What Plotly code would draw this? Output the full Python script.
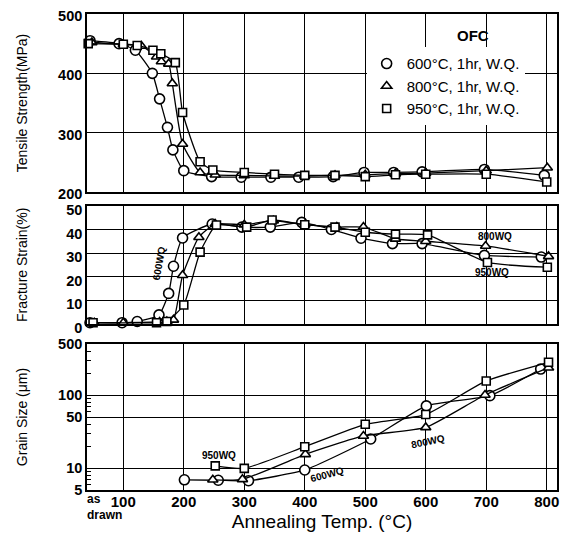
import plotly.graph_objects as go

# ---------------- data ----------------
# Tensile strength (MPa)
T600_ts = [45, 93, 120, 148, 160, 173, 182, 200, 246, 295, 344, 390, 447, 498, 547, 594, 697, 796]
TS600 = [455, 450, 439, 400, 357, 309, 271, 236, 226, 225, 225, 225, 226, 233, 233, 234, 238, 228]
T800_ts = [48, 100, 130, 155, 163, 175, 181, 198, 227, 252, 300, 350, 400, 450, 500, 550, 600, 700, 801]
TS800 = [452, 449, 446, 428, 420, 416, 383, 281, 233, 229, 228, 227, 227, 228, 229, 231, 232, 236, 241]
T950_ts = [42, 100, 123, 149, 162, 186, 198, 227, 248, 300, 350, 400, 450, 500, 550, 600, 700, 800]
TS950 = [450, 449, 447, 439, 433, 418, 334, 251, 237, 233, 230, 228, 228, 226, 229, 230, 230, 217]

# Fracture strain (%)
T600_fs = [45, 98, 123, 159, 175, 183, 198, 247, 296, 343, 395, 444, 493, 545, 594, 697, 791]
FS600 = [0.5, 0.5, 1, 3.8, 12.9, 24.4, 36.4, 42.3, 41, 41, 43, 40, 36.3, 34, 34, 29, 28.3]
T800_fs = [52, 100, 160, 172, 183, 198, 225, 252, 300, 348, 400, 453, 497, 550, 600, 699, 803]
FS800 = [0.5, 0.5, 0.8, 1, 1.7, 20.6, 36.7, 42.3, 42, 43.7, 42, 41, 41, 36, 35, 33, 28.6]
T950_fs = [50, 155, 172, 200, 227, 254, 304, 346, 400, 450, 500, 550, 603, 702, 801]
FS950 = [0.5, 0.5, 1, 8, 30.4, 41.9, 41, 44, 42, 41, 38.8, 38, 37.7, 26, 24]

# Grain size (um)
T600_gs = [201, 257, 307, 400, 509, 601, 706, 790]
GS600 = [6.9, 6.8, 6.7, 9.4, 25, 71, 98, 227]
T800_gs = [248, 297, 401, 497, 600, 698, 803]
GS800 = [6.9, 7.0, 15.4, 27.5, 36, 100, 237]
T950_gs = [252, 300, 400, 500, 600, 700, 803]
GS950 = [10.7, 9.9, 19.6, 39.7, 54, 156, 281]

series_names = ["600°C, 1hr, W.Q.", "800°C, 1hr, W.Q.", "950°C, 1hr, W.Q."]
x_ticks = [100, 200, 300, 400, 500, 600, 700, 800]
ts_ticks = [200, 300, 400, 500]
fs_ticks = [0, 10, 20, 30, 40, 50]
gs_ticks = [5, 10, 50, 100, 500]

# ---------------- figure ----------------
fig = go.Figure()
FONT = "Liberation Sans, Arial, sans-serif"
syms = [("circle", 10), ("triangle-up", 9), ("square", 8)]


def add(x, y, k, xa, ya):
    sym, size = syms[k]
    fig.add_trace(go.Scatter(
        x=x, y=y, mode="lines+markers",
        line=dict(color="black", width=1.3, shape="spline", smoothing=0.5),
        marker=dict(symbol=sym, size=size, color="white",
                    line=dict(color="black", width=1.6)),
        xaxis=xa, yaxis=ya, showlegend=False, cliponaxis=False, hoverinfo="x+y"))


for k, (x, y) in enumerate([(T600_ts, TS600), (T800_ts, TS800), (T950_ts, TS950)]):
    add(x, y, k, "x", "y")
for k, (x, y) in enumerate([(T600_fs, FS600), (T800_fs, FS800), (T950_fs, FS950)]):
    add(x, y, k, "x2", "y2")
for k, (x, y) in enumerate([(T600_gs, GS600), (T800_gs, GS800), (T950_gs, GS950)]):
    add(x, y, k, "x3", "y3")

for k, name in enumerate(series_names):
    sym, size = syms[k]
    fig.add_trace(go.Scatter(
        x=[None], y=[None], mode="markers", name=name,
        marker=dict(symbol=sym, size=size, color="white",
                    line=dict(color="black", width=1.6)),
        xaxis="x", yaxis="y"))

xr = [40, 817]
axis_common = dict(showline=True, linecolor="black", linewidth=1.6, mirror=True,
                   showgrid=True, gridcolor="black", gridwidth=1.1, zeroline=False,
                   automargin=False, ticklabeloverflow="allow",
                   ticks="", tickfont=dict(family=FONT, size=15, color="black", weight="bold"))

xcommon = dict(axis_common, range=xr, tickvals=x_ticks)
fig.update_layout(
    width=554, height=524,
    margin=dict(l=79, r=5, t=6, b=42),
    paper_bgcolor="white", plot_bgcolor="white",
    font=dict(family=FONT, color="black"),
    xaxis=dict(xcommon, domain=[0, 1], anchor="y", showticklabels=False),
    xaxis2=dict(xcommon, domain=[0, 1], anchor="y2", showticklabels=False, matches="x"),
    xaxis3=dict(xcommon, domain=[0, 1], anchor="y3", matches="x", ticklabelstandoff=-3,
                title=dict(text="Annealing Temp. (°C)", font=dict(family=FONT, size=19), standoff=11)),
    yaxis=dict(axis_common, domain=[0.626, 1], range=[200, 500], tickvals=ts_ticks, ticklabelshift=2,
               tickfont=dict(family=FONT, size=14.5, color="black", weight="bold"),
               title=dict(text="Tensile Strength(MPa)", font=dict(family=FONT, size=14), standoff=27)),
    yaxis2=dict(axis_common, domain=[0.349, 0.597], range=[0, 50], tickvals=fs_ticks, ticklabelshift=4,
                tickfont=dict(family=FONT, size=14.5, color="black", weight="bold"),
                title=dict(text="Fracture Strain(%)", font=dict(family=FONT, size=14), standoff=35)),
    yaxis3=dict(axis_common, domain=[0, 0.3067], type="log", range=[0.699, 2.699], tickvals=gs_ticks,
                tickfont=dict(family=FONT, size=14.5, color="black", weight="bold"),
                title=dict(text="Grain Size (μm)", font=dict(family=FONT, size=14), standoff=27),
                minor=dict(ticks="inside", ticklen=4, tickcolor="black", showgrid=False,
                           tickvals=[6, 7, 8, 9, 20, 30, 40, 60, 70, 80, 90, 200, 300, 400])),
    legend=dict(x=0.595, y=0.93, xanchor="left", yanchor="top", bgcolor="white",
                font=dict(family=FONT, size=15), tracegroupgap=0, itemwidth=30),
    showlegend=True,
)

ann_font = dict(family=FONT, size=10, color="black", weight="bold")
annotations = [
    dict(text="OFC", xref="paper", yref="paper", x=0.821, y=0.954, xanchor="center", yanchor="middle",
         showarrow=False, font=dict(family=FONT, size=15, weight="bold")),
    dict(text="as<br>drawn", xref="paper", yref="paper", x=-0.005, y=0.0, xanchor="left",
         yanchor="top", align="left", showarrow=False,
         font=dict(family=FONT, size=12, weight="bold")),
    dict(text="600WQ", xref="x2", yref="y2", x=159, y=25.6, showarrow=False, textangle=-80, font=ann_font),
    dict(text="800WQ", xref="x2", yref="y2", x=714, y=37, showarrow=False, font=ann_font),
    dict(text="950WQ", xref="x2", yref="y2", x=710, y=21.8, showarrow=False, font=ann_font),
    dict(text="950WQ", xref="x3", yref="y3", x=258, y=1.165, showarrow=False, font=ann_font),
    dict(text="600WQ", xref="x3", yref="y3", x=437, y=0.918, showarrow=False, textangle=-15, font=ann_font),
    dict(text="800WQ", xref="x3", yref="y3", x=604, y=1.357, showarrow=False, textangle=-12, font=ann_font),
]
fig.update_layout(annotations=annotations)

fig.write_html("out.html")
